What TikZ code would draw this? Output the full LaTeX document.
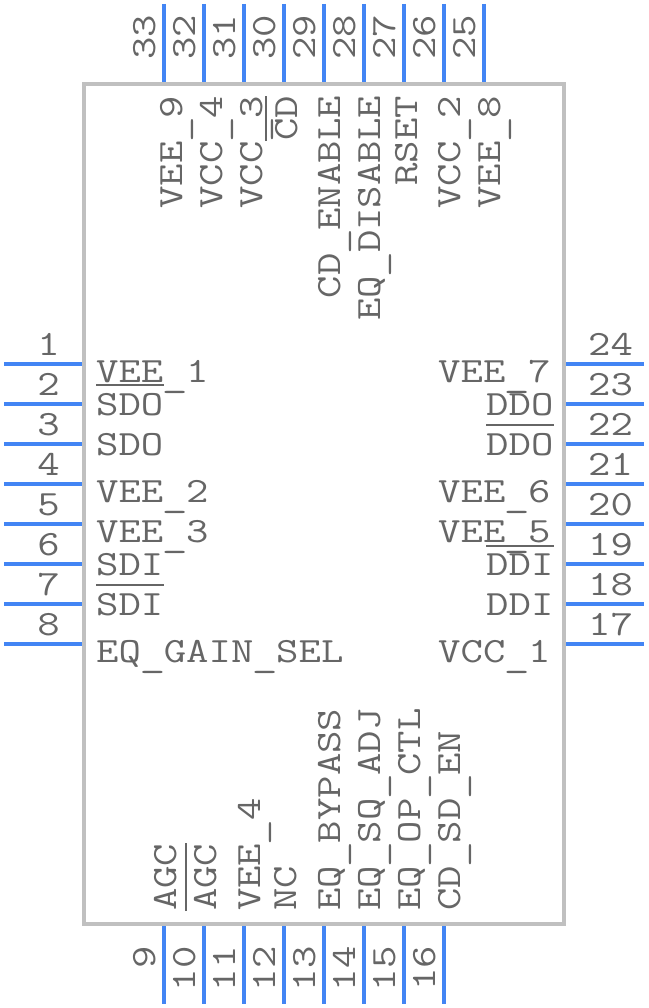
\documentclass[tikz,border=0pt]{standalone}
\usepackage{tikz}
\definecolor{pinblue}{HTML}{4285F4}
\definecolor{bodygray}{HTML}{C0C0C0}
\definecolor{textgray}{HTML}{666666}
\newcommand{\wide}[1]{\scalebox{1.225}[1]{#1}}
\newcommand{\usc}{\makebox[0.525em]{\raisebox{-4pt}{\scalebox{1.15}[1]{\_}}}}
\tikzstyle{body} = [draw=bodygray, line width=4pt]
\tikzstyle{pin} = [draw=pinblue, line width=4pt]
\tikzstyle{bar} = [draw=textgray, line width=2pt]
\tikzstyle{pintext} = [inner sep=0pt, text=textgray, font=\fontsize{35.5}{36}\selectfont\ttfamily]
\tikzstyle{flat} = [pintext, anchor=base west]
\tikzstyle{flatend} = [pintext, anchor=base east]
\tikzstyle{up} = [pintext, rotate=90, anchor=base west]
\tikzstyle{upend} = [pintext, rotate=90, anchor=base east]

\begin{document}
\begin{tikzpicture}[x=1pt, y=1pt]

	\useasboundingbox (0,-1008) rectangle (648,0);
	\draw [body] (84,-84) rectangle (564,-924);

	% left and right pins
	\foreach \n [evaluate=\n as \y using int(324+40*\n)] in {1,...,8} {
		\coordinate (la\n) at (4,-\y);
		\coordinate (lb\n) at (82,-\y);
		\draw [pin] (la\n) -- (lb\n);
		\node (lnum\n) [flatend] at (60,-\y+9) {\wide{\n}};
	}
	\foreach \n [evaluate=\n as \y using int(364+40*(24-\n))] in {24,...,17} {
		\coordinate (ra\n) at (566,-\y);
		\coordinate (rb\n) at (644,-\y);
		\draw [pin] (ra\n) -- (rb\n);
		\node (rnum\n) [flat] at (588,-\y+9) {\wide{\n}};
	}

	% bottom and top pins
	\foreach \n [evaluate=\n as \x using int(164+40*(\n-9))] in {9,...,16} {
		\coordinate (ba\n) at (\x,-926);
		\coordinate (bb\n) at (\x,-1004);
		\draw [pin] (ba\n) -- (bb\n);
		\node (bnum\n) [upend] at (\x-9,-946) {\wide{\n}};
	}
	\foreach \n [evaluate=\n as \x using int(164+40*(33-\n))] in {33,...,25} {
		\coordinate (ta\n) at (\x,-4);
		\coordinate (tb\n) at (\x,-82);
		\draw [pin] (ta\n) -- (tb\n);
		\node (tnum\n) [up] at (\x-9,-60) {\wide{\n}};
	}

	% left labels
	\node (vee1) [flat] at (96,-382) {\wide{VEE\usc 1}};
	\node (sdo) [flat] at (96,-415) {\wide{SDO}};
	\node (sdob) [flat] at (96,-455) {\wide{SDO}};
	\node (vee2) [flat] at (96,-502) {\wide{VEE\usc 2}};
	\node (vee3) [flat] at (96,-542) {\wide{VEE\usc 3}};
	\node (sdi) [flat] at (96,-575) {\wide{SDI}};
	\node (sdib) [flat] at (96,-615) {\wide{SDI}};
	\node (gain) [flat] at (96,-662) {\wide{EQ\usc GAIN\usc SEL}};

	% right labels
	\node (vee7) [flat] at (438,-382) {\wide{VEE\usc 7}};
	\node (ddo) [flat] at (486,-415) {\wide{DDO}};
	\node (ddob) [flat] at (486,-455) {\wide{DDO}};
	\node (vee6) [flat] at (438,-502) {\wide{VEE\usc 6}};
	\node (vee5) [flat] at (438,-542) {\wide{VEE\usc 5}};
	\node (ddib) [flat] at (486,-575) {\wide{DDI}};
	\node (ddi) [flat] at (486,-615) {\wide{DDI}};
	\node (vcc1) [flat] at (438,-662) {\wide{VCC\usc 1}};

	% top labels
	\node (vee9) [upend] at (182,-96) {\wide{VEE\usc 9}};
	\node (vcc4) [upend] at (222,-96) {\wide{VCC\usc 4}};
	\node (vcc3) [upend] at (262,-96) {\wide{VCC\usc 3}};
	\node (cdb) [upend] at (297,-96) {\wide{CD}};
	\node (cden) [upend] at (340,-96) {\wide{CD\usc ENABLE}};
	\node (eqdis) [upend] at (380,-96) {\wide{EQ\usc DISABLE}};
	\node (rset) [upend] at (417,-96) {\wide{RSET}};
	\node (vcc2) [upend] at (460,-96) {\wide{VCC\usc 2}};
	\node (vee8) [upend] at (500,-96) {\wide{VEE\usc 8}};

	% bottom labels
	\node (agc) [up] at (176,-911) {\wide{AGC}};
	\node (agcb) [up] at (216,-911) {\wide{AGC}};
	\node (vee4) [up] at (260,-911) {\wide{VEE\usc 4}};
	\node (nc) [up] at (296,-911) {\wide{NC}};
	\node (bypass) [up] at (340,-911) {\wide{EQ\usc BYPASS}};
	\node (sqadj) [up] at (380,-911) {\wide{EQ\usc SQ\usc ADJ}};
	\node (opctl) [up] at (420,-911) {\wide{EQ\usc OP\usc CTL}};
	\node (sden) [up] at (460,-911) {\wide{CD\usc SD\usc EN}};

	% bars over inverted signals
	\draw [bar] ([yshift=7.5pt]sdo.north west) -- ([yshift=7.5pt]sdo.north east);
	\draw [bar] ([yshift=7.5pt]sdib.north west) -- ([yshift=7.5pt]sdib.north east);
	\draw [bar] ([yshift=7.5pt]ddob.north west) -- ([yshift=7.5pt]ddob.north east);
	\draw [bar] ([yshift=7.5pt]ddib.north west) -- ([yshift=7.5pt]ddib.north east);
	\draw [bar] ([xshift=-9pt]cdb.north west) -- ([xshift=-9pt]cdb.north east);
	\draw [bar] ([xshift=-8pt]agcb.north west) -- ([xshift=-8pt]agcb.north east);

\end{tikzpicture}
\end{document}
